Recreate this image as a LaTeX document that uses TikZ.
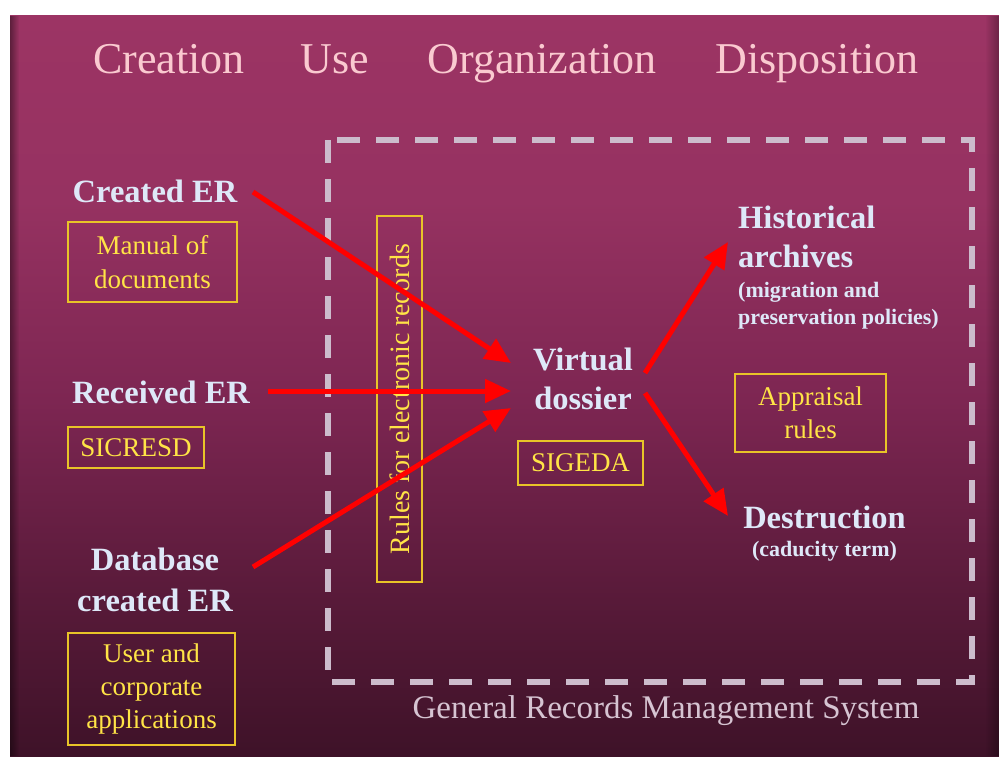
\documentclass[tikz,border=0pt]{standalone}
\usepackage{fontspec}
\setmainfont{Liberation Serif}
\usetikzlibrary{arrows.meta,fadings}
\definecolor{bgA}{RGB}{156,52,100}
\definecolor{bgB}{RGB}{150,50,97}
\definecolor{bgC}{RGB}{125,38,82}
\definecolor{bgD}{RGB}{88,26,57}
\definecolor{bgE}{RGB}{62,18,40}
\definecolor{titlec}{RGB}{250,202,208}
\definecolor{labelc}{RGB}{222,232,248}
\definecolor{ytext}{RGB}{255,228,70}
\definecolor{ybord}{RGB}{232,196,40}
\definecolor{dashc}{RGB}{204,188,204}
\definecolor{gentext}{RGB}{214,196,210}
\definecolor{arrowc}{RGB}{255,0,0}
\pgfdeclareverticalshading{bgshade}{100bp}{color(0bp)=(bgE); color(25bp)=(bgE); color(35.5bp)=(bgD); color(49bp)=(bgC); color(62.5bp)=(bgB); color(75bp)=(bgA); color(100bp)=(bgA)}
\tikzfading[name=fadeR, left color=transparent!0, right color=transparent!100]
\tikzfading[name=fadeL, left color=transparent!100, right color=transparent!0]
\begin{document}
\begin{tikzpicture}[x=1pt,y=-1pt,
  titletxt/.style={anchor=base, text=titlec, inner sep=0pt, font=\fontsize{44}{50}\selectfont},
  boldlbl/.style={anchor=base, text=labelc, inner sep=0pt, font=\bfseries\fontsize{32.5}{38}\selectfont},
  smalllbl/.style={anchor=base, text=labelc, inner sep=0pt, font=\bfseries\fontsize{22}{26}\selectfont},
  ybox/.style={draw=ybord, line width=2.5pt, text=ytext, inner sep=0pt, align=center, font=\fontsize{27}{33}\selectfont},
  dashbox/.style={draw=dashc, line width=5.5pt, dash pattern=on 23pt off 16pt},
  flow/.style={draw=arrowc, line width=5pt, -{Triangle[length=26pt,width=23pt]}}
]
\useasboundingbox (0,0) rectangle (999,756);
\fill[white] (0,0) rectangle (999,756);
\path[shading=bgshade] (10,15) rectangle (999,756);
\fill[black, opacity=0.4, path fading=fadeR] (10,15) rectangle (19,756);
\fill[black, opacity=0.3, path fading=fadeL] (985,15) rectangle (999,756);

% titles
\node[titletxt] (tcre) at (169,73) {Creation};
\node[titletxt] (tuse) at (335,73) {Use};
\node[titletxt] (torg) at (542,73) {Organization};
\node[titletxt] (tdis) at (817,73) {Disposition};

% dashed system frame
\draw[dashbox] (328,140) rectangle (972,682);
\node[anchor=base, text=gentext, inner sep=0pt, font=\fontsize{33}{38}\selectfont] (grms) at (666,718) {General Records Management System};

% left column
\node[boldlbl] (created) at (155,202) {Created ER};
\node[ybox, minimum width=169pt, minimum height=80pt, font=\fontsize{27}{34}\selectfont] (manual) at (152.5,262) {Manual of\\documents};
\node[boldlbl] (received) at (161,403) {Received ER};
\node[ybox, minimum width=136pt, minimum height=41pt] (sicresd) at (136,447.5) {SICRESD};
\node[boldlbl] (db1) at (155,570) {Database};
\node[boldlbl] (db2) at (155,611) {created ER};
\node[ybox, minimum width=167pt, minimum height=112pt, font=\fontsize{27}{33}\selectfont] (userapp) at (151.5,689) {User and\\corporate\\applications};

% rules
\node[ybox, minimum width=366pt, minimum height=45pt, rotate=90, font=\fontsize{28}{33}\selectfont] (rules) at (399.5,399) {Rules for electronic records};

% centre
\node[boldlbl] (vd1) at (583,370) {Virtual};
\node[boldlbl] (vd2) at (583,409) {dossier};
\node[ybox, minimum width=125pt, minimum height=44pt] (sigeda) at (580.5,463) {SIGEDA};

% right column
\node[boldlbl, anchor=base west] (hist1) at (738,228) {Historical};
\node[boldlbl, anchor=base west] (hist2) at (738,267) {archives};
\node[smalllbl, anchor=base west] (hist3) at (738,297) {(migration and};
\node[smalllbl, anchor=base west] (hist4) at (738,324) {preservation policies)};
\node[ybox, minimum width=151pt, minimum height=78pt, font=\fontsize{27}{33}\selectfont] (appraisal) at (810.5,413) {Appraisal\\rules};
\node[boldlbl] (destr) at (824.5,528) {Destruction};
\node[smalllbl] (cad) at (824.5,556) {(caducity term)};

% arrow end points
\coordinate (a1s) at (253,192);
\coordinate (a1e) at (511,363);
\coordinate (a2s) at (268,391);
\coordinate (a2e) at (511,391);
\coordinate (a3s) at (253,567);
\coordinate (a3e) at (511,408);
\coordinate (a4s) at (645,373);
\coordinate (a4e) at (728,242);
\coordinate (a5s) at (645,393);
\coordinate (a5e) at (728,516);

\draw[flow] (a1s) -- (a1e);
\draw[flow] (a2s) -- (a2e);
\draw[flow] (a3s) -- (a3e);
\draw[flow] (a4s) -- (a4e);
\draw[flow] (a5s) -- (a5e);
\end{tikzpicture}
\end{document}
